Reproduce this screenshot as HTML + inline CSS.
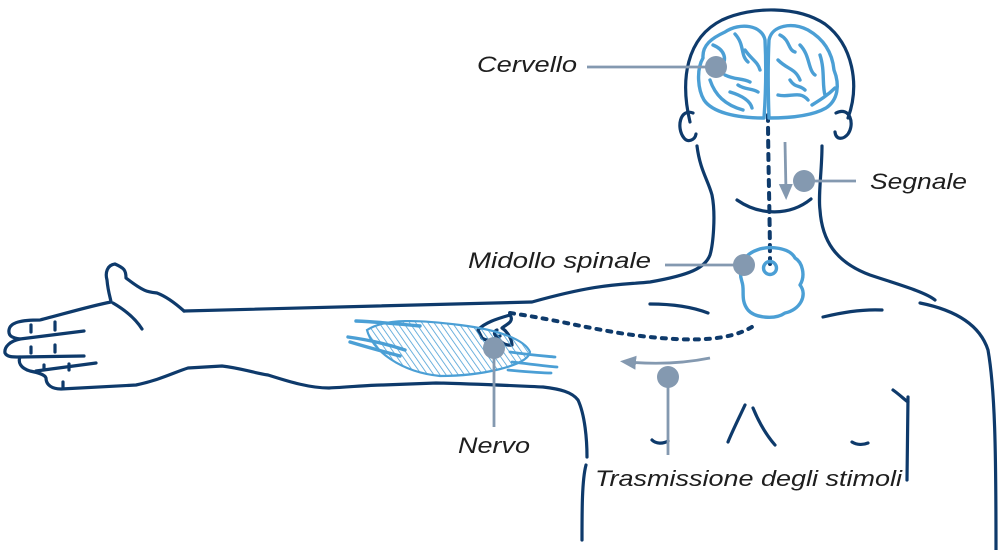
<!DOCTYPE html>
<html><head><meta charset="utf-8"><style>
html,body{margin:0;padding:0;background:#fff}
svg{display:block}
text{font-family:"Liberation Sans",sans-serif;font-style:italic;font-size:22px;fill:#1e1e1e}
</style></head><body>
<svg width="1000" height="550" viewBox="0 0 1000 550" xmlns="http://www.w3.org/2000/svg">
<defs>
<pattern id="h" patternUnits="userSpaceOnUse" width="5" height="5" patternTransform="rotate(-35)">
<line x1="0" y1="0" x2="0" y2="5" stroke="#4b9fd5" stroke-width="1.6"/>
</pattern>
<marker id="ar" markerWidth="16" markerHeight="16" refX="8" refY="8" orient="auto" markerUnits="userSpaceOnUse">
<path d="M0,1 L16,8 L0,15 Z" fill="#8499b0"/>
</marker>
</defs>
<g fill="none" stroke="#0e3a6b" stroke-width="3.2" stroke-linecap="round" stroke-linejoin="round">
<path d="M690,122 C680,80 686,38 722,20 C752,6 798,6 825,24 C853,45 860,85 848,118"/>
<path d="M693,113 C680,108 676,128 684,138 C688,143 695,140 696,134"/>
<path d="M836,113 C850,106 855,124 848,134 C843,140 836,140 835,132"/>
<path d="M697,146 C700,170 708,180 712,195 C716,215 713,245 710,255 C705,268 690,275 650,282 C620,285 600,283 532,302 L184,311"/>
<path d="M822,146 C822,170 818,195 820,210 C822,240 835,262 870,275 C900,285 925,292 935,300"/>
<path d="M920,303 C955,310 980,325 988,350 C995,390 996,450 996,550"/>
<path d="M737,200 C760,216 790,216 811,199"/>
<path d="M184,311 C175,303 165,296 157,293 C148,292 144,292 126,278 C126,270 124,268 115,264 C107,265 105,273 107,280 C108,292 111,300 111,302 C90,306 60,315 40,320 C22,320 10,322 9,330 C8,337 14,338 20,339 C10,341 4,347 5,353 C7,357 12,357 20,357 C18,362 20,368 30,371 C40,373 45,375 46,378 C46,385 52,389 61,389 L136,385 C160,380 175,372 188,368 L222,366 C240,368 250,372 268,375 C290,382 310,388 329,388 C350,387 370,385 383,385 L436,383 C480,384 520,386 543,387 C560,389 572,392 578,400 C585,415 587,440 587,457"/>
<path d="M586,465 C582,480 582,510 582,540"/>
<path d="M113,303 C125,310 135,318 142,329"/>
<path d="M20,339 L84,331"/><path d="M20,357 L84,356"/><path d="M36,371 L96,363"/>
<path d="M31,325 L31,332 M55,322 L55,330 M31,347 L31,353 M55,345 L55,352 M44,365 L44,370 M69,364 L69,370 M63,382 L63,387"/>
<path d="M650,304 C675,304 695,308 708,313"/>
<path d="M823,317 C840,313 860,309 882,310"/>
<path d="M745,405 C738,420 732,432 728,442 M753,408 C760,425 768,437 775,445"/>
<path d="M652,440 C656,444 663,444 668,441 M852,442 C857,445 863,445 868,443"/>
<path d="M893,390 C900,395 905,400 908,402 M908,397 L907,480"/>
<path d="M478,330 C485,322 500,318 510,315 C515,322 505,325 502,328 C508,332 512,340 512,345 C505,346 500,342 497,336 C495,340 488,342 482,338 Z"/>
<path d="M497,330 C492,332 495,338 500,336"/>
<path d="M510,313 C560,320 600,332 650,337 C690,341 730,342 755,325" stroke-width="4" stroke-dasharray="4 7"/>
<path d="M768,115 C768,160 770,220 770,265" stroke-width="4" stroke-dasharray="6 7"/>
</g>
<g fill="none" stroke="#4b9fd5" stroke-width="3.4" stroke-linecap="round" stroke-linejoin="round">
<path d="M765,40 C762,25 740,22 725,32 C712,38 702,45 703,58 C696,70 698,90 704,100 C712,112 735,118 764,118 C766,90 766,60 765,40 Z"/>
<path d="M769,40 C772,25 792,22 808,30 C822,38 832,50 834,70 C840,85 838,100 826,108 C812,116 790,118 769,118 C768,90 768,60 769,40 Z"/>
<path d="M713,45 C725,50 728,60 720,68 M735,34 C745,45 740,55 748,62 M725,75 C735,80 742,78 750,82 M710,80 C715,95 725,105 743,110 M730,92 C740,95 750,100 752,108 M745,50 C752,60 758,62 760,70 M738,85 C745,90 752,88 758,92"/>
<path d="M780,35 C790,40 788,50 795,52 M800,45 C810,55 808,70 815,75 M778,60 C788,70 795,68 800,80 M820,55 C825,70 822,85 825,95 M778,95 C790,98 800,90 808,100 M812,105 C820,100 828,95 835,88 M790,80 C795,88 800,85 805,90"/>
<path d="M757,250 C770,245 790,248 795,258 C802,262 806,275 800,285 C808,295 800,310 785,313 C775,320 755,318 748,310 C740,300 745,290 742,282 C738,270 742,255 757,250 Z"/>
<circle cx="770" cy="268" r="6.5"/>
<path d="M356,321 C380,322 400,324 420,326 M348,337 C370,340 390,345 405,350 M350,342 C370,348 385,352 400,356"/>
<path d="M510,352 C530,355 545,356 555,357 M512,362 C530,364 545,366 557,367 M508,370 C530,372 540,373 551,373" stroke-width="2.8"/>
</g>
<path d="M367,330 C385,318 420,320 460,325 C500,330 525,340 530,352 C528,366 480,376 440,376 C400,372 372,350 367,330 Z" fill="url(#h)" stroke="#4b9fd5" stroke-width="2.2"/>
<g stroke="#8499b0" stroke-width="2.8" fill="none">
<path d="M587,67 L716,67"/>
<path d="M804,181 L856,181"/>
<path d="M665,265 L744,265"/>
<path d="M494,348 L494,427"/>
<path d="M668,377 L668,455"/>
<path d="M785,142 L786,192" marker-end="url(#ar)"/>
<path d="M710,358 C680,364 650,364 628,362" marker-end="url(#ar)"/>
</g>
<g fill="#8499b0">
<circle cx="716" cy="67" r="11"/>
<circle cx="804" cy="181" r="11"/>
<circle cx="744" cy="265" r="11"/>
<circle cx="494" cy="348" r="11"/>
<circle cx="668" cy="377" r="11"/>
</g>
<text x="477" y="72" textLength="100" lengthAdjust="spacingAndGlyphs">Cervello</text>
<text x="870" y="189" textLength="97" lengthAdjust="spacingAndGlyphs">Segnale</text>
<text x="468" y="268" textLength="183" lengthAdjust="spacingAndGlyphs">Midollo spinale</text>
<text x="458" y="453" textLength="72" lengthAdjust="spacingAndGlyphs">Nervo</text>
<text x="595" y="486" textLength="307" lengthAdjust="spacingAndGlyphs">Trasmissione degli stimoli</text>
</svg>
</body></html>
